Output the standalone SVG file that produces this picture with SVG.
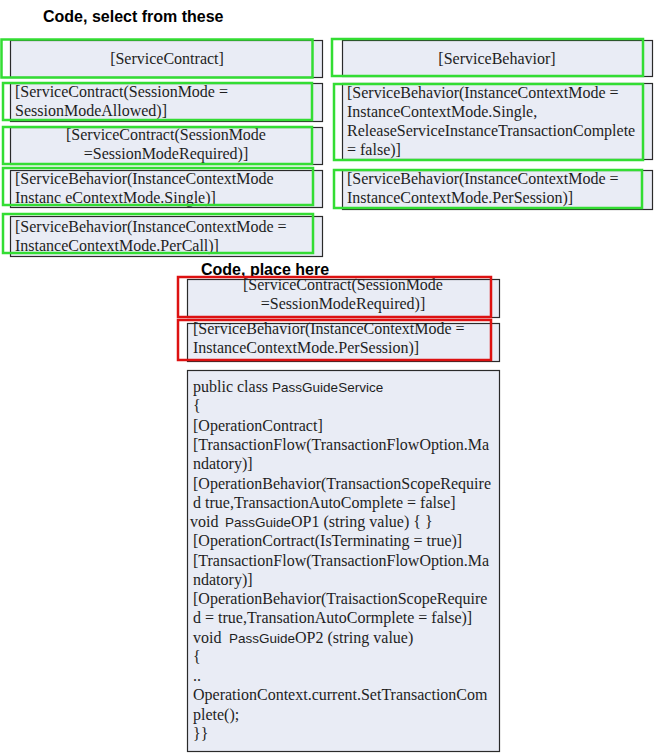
<svg xmlns="http://www.w3.org/2000/svg" width="661" height="754" viewBox="0 0 661 754">
<style>
.bg{fill:#ffffff}
.box{fill:#e9ecf5;stroke:#2a2a2a;stroke-width:1.2}
.g{fill:none;stroke:#33dd33;stroke-width:2.5}
.r{fill:none;stroke:#dd1111;stroke-width:2.5}
.t{font-family:"Liberation Serif","Times New Roman",serif;font-size:16px;fill:#1e1e1e}
.c{text-anchor:middle}
.a{font-family:"Liberation Sans",Arial,sans-serif;font-size:13.5px}
.h{font-family:"Liberation Sans",Arial,sans-serif;font-size:16px;font-weight:bold;fill:#000}
</style>
<rect class="bg" x="0" y="0" width="661" height="754"/>
<text class="h" x="43" y="22">Code, select from these</text>
<text class="h" x="201" y="275">Code, place here</text>

<g id="l1">
<rect class="box" x="10.5" y="40.5" width="312" height="37"/>
<text class="t c" x="167" y="64">[ServiceContract]</text>
<rect class="g" x="1.5" y="39.5" width="311" height="38"/>
</g>
<g id="l2">
<rect class="box" x="10.5" y="83.5" width="312" height="38"/>
<text class="t" x="15" y="97">[ServiceContract(SessionMode =</text>
<text class="t" x="15" y="116">SessionModeAllowed)]</text>
<rect class="g" x="3" y="83" width="309" height="37"/>
</g>
<g id="l3">
<rect class="box" x="10.5" y="127.5" width="312" height="37"/>
<text class="t c" x="166" y="140">[ServiceContract(SessionMode</text>
<text class="t c" x="166" y="159">=SessionModeRequired)]</text>
<rect class="g" x="3" y="127" width="309" height="37"/>
</g>
<g id="l4">
<rect class="box" x="10.5" y="170.5" width="312" height="37"/>
<text class="t" x="15" y="184">[ServiceBehavior(InstanceContextMode</text>
<text class="t" x="15" y="203">Instanc eContextMode.Single)]</text>
<rect class="g" x="3" y="168" width="310" height="37"/>
</g>
<g id="l5">
<rect class="box" x="10.5" y="216.5" width="312" height="40"/>
<text class="t" x="15" y="232">[ServiceBehavior(InstanceContextMode =</text>
<text class="t" x="15" y="251">InstanceContextMode.PerCall)]</text>
<rect class="g" x="3" y="214" width="310" height="39"/>
</g>

<g id="r1">
<rect class="box" x="342.5" y="40.5" width="310" height="36"/>
<text class="t c" x="497" y="64">[ServiceBehavior]</text>
<rect class="g" x="332" y="39" width="311" height="37"/>
</g>
<g id="r2">
<rect class="box" x="342.5" y="83.5" width="310" height="76"/>
<text class="t" x="347" y="98">[ServiceBehavior(InstanceContextMode =</text>
<text class="t" x="347" y="117">InstanceContextMode.Single,</text>
<text class="t" x="347" y="136">ReleaseServiceInstanceTransactionComplete</text>
<text class="t" x="347" y="155">= false)]</text>
<rect class="g" x="334" y="84" width="309" height="76"/>
</g>
<g id="r3">
<rect class="box" x="342.5" y="170.5" width="310" height="39"/>
<text class="t" x="347" y="184">[ServiceBehavior(InstanceContextMode =</text>
<text class="t" x="347" y="203">InstanceContextMode.PerSession)]</text>
<rect class="g" x="334" y="170" width="308" height="38"/>
</g>

<g id="m1">
<rect class="box" x="187.5" y="279.5" width="312" height="38"/>
<text class="t c" x="343" y="290">[ServiceContract(SessionMode</text>
<text class="t c" x="343" y="309">=SessionModeRequired)]</text>
<rect class="r" x="178" y="277" width="313" height="40"/>
</g>
<g id="m2">
<rect class="box" x="187.5" y="323.5" width="312" height="38"/>
<text class="t" x="193" y="334">[ServiceBehavior(InstanceContextMode =</text>
<text class="t" x="193" y="353">InstanceContextMode.PerSession)]</text>
<rect class="r" x="178" y="320" width="313" height="40"/>
</g>

<g id="code">
<rect class="box" x="187.5" y="370.5" width="312" height="381"/>
<text class="t" x="193" y="392">public class <tspan class="a">PassGuideService</tspan></text>
<text class="t" x="193" y="411">{</text>
<text class="t" x="193" y="431">[OperationContract]</text>
<text class="t" x="193" y="450">[TransactionFlow(TransactionFlowOption.Ma</text>
<text class="t" x="193" y="469">ndatory)]</text>
<text class="t" x="193" y="489">[OperationBehavior(TransactionScopeRequire</text>
<text class="t" x="193" y="508">d true,TransactionAutoComplete = false]</text>
<text class="t" x="190" y="527">void <tspan class="a" x="225">PassGuide</tspan>OP1 (string value) { }</text>
<text class="t" x="193" y="546">[OperationCortract(IsTerminating = true)]</text>
<text class="t" x="193" y="566">[TransactionFlow(TransactionFlowOption.Ma</text>
<text class="t" x="193" y="585">ndatory)]</text>
<text class="t" x="193" y="604">[OperationBehavior(TraisactionScopeRequire</text>
<text class="t" x="193" y="623">d = true,TransationAutoCormplete = false)]</text>
<text class="t" x="193" y="643">void <tspan class="a" x="229">PassGuide</tspan>OP2 (string value)</text>
<text class="t" x="193" y="662">{</text>
<text class="t" x="193" y="681">..</text>
<text class="t" x="193" y="700">OperationContext.current.SetTransactionCom</text>
<text class="t" x="193" y="720">plete();</text>
<text class="t" x="193" y="739">}}</text>
</g>
<g id="connectors"/>
</svg>
